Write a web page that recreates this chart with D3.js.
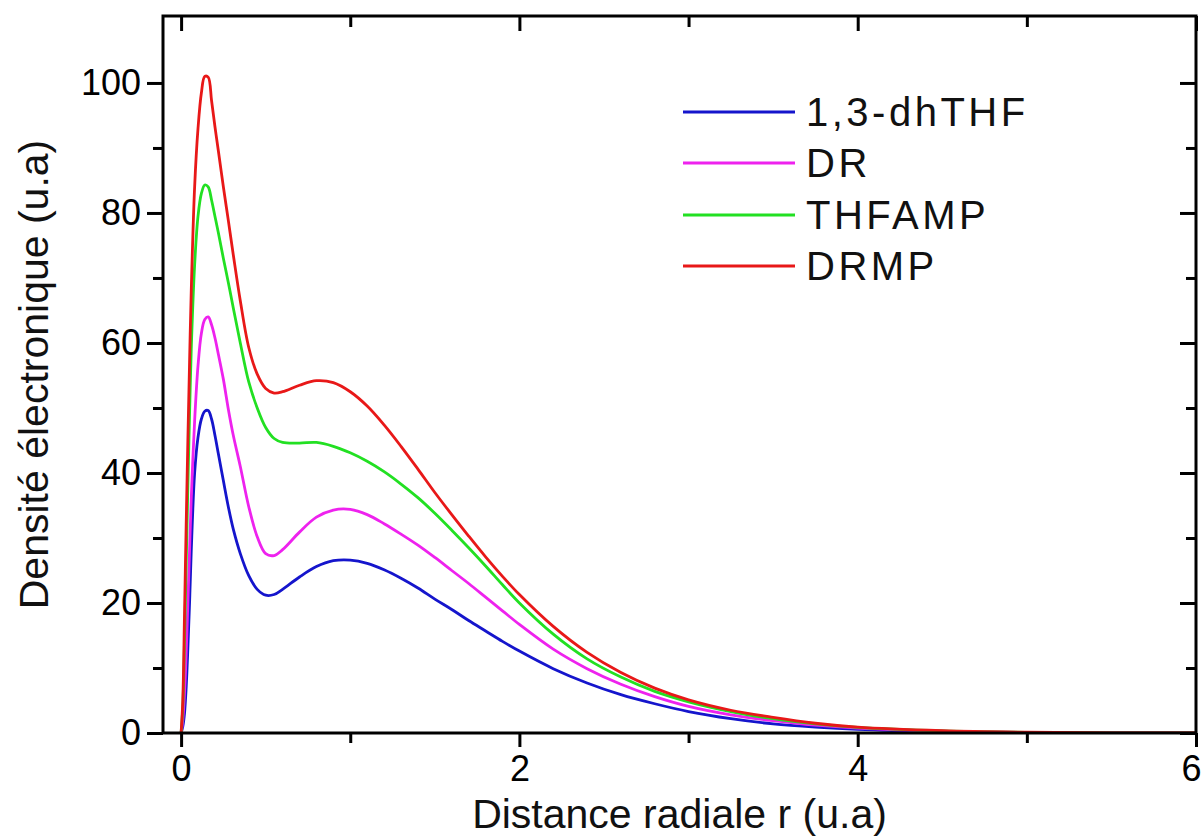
<!DOCTYPE html>
<html><head><meta charset="utf-8">
<script src="https://cdn.jsdelivr.net/npm/d3@7"></script>
<style>html,body{margin:0;padding:0;background:#fff}svg{display:block}</style>
</head><body>
<svg id="chart" width="1203" height="836"></svg>
<script>
const r = [0,0.01,0.02,0.03,0.04,0.05,0.06,0.08,0.10,0.12,0.14,0.16,0.18,0.20,0.22,0.25,0.28,0.31,0.35,0.40,0.45,0.50,0.55,0.60,0.70,0.80,0.90,1.00,1.10,1.20,1.30,1.40,1.50,1.60,1.70,1.80,1.90,2.00,2.20,2.40,2.60,2.80,3.00,3.25,3.50,3.75,4.00,4.50,5.00,5.50,6.00];
const dhTHF = [0,1,3,7,13,20,28,40,45.5,48.3,49.5,49.6,48.3,45.8,43,38.8,34.7,31.2,27.6,24.2,22.1,21.2,21.3,22.1,24,25.6,26.5,26.6,26.1,25.1,23.8,22.3,20.6,19.0,17.3,15.7,14.1,12.6,9.9,7.7,5.9,4.5,3.3,2.2,1.4,0.9,0.55,0.2,0.06,0.02,0];
const DR = [0,2,6,12,20,28,36,48,56.5,61.5,63.6,64,62.8,60.8,58.3,54.4,49.7,45.6,41,34.8,30.2,27.6,27.3,28.2,30.9,33.2,34.3,34.4,33.6,32.2,30.6,28.9,27.0,25.0,23.0,20.9,18.8,16.7,12.9,9.9,7.5,5.6,4.1,2.8,1.9,1.2,0.75,0.28,0.09,0.02,0];
const THFAMP = [0,4,14,26,38,49,59,72,79.5,83,84.3,84,82,79.5,77,73,69.2,65.2,60,54,50,47,45.3,44.7,44.6,44.7,44.1,43.1,41.8,40.2,38.3,36.2,33.8,31.2,28.5,25.7,22.8,20.0,15.2,11.4,8.6,6.4,4.8,3.3,2.2,1.4,0.85,0.32,0.1,0.03,0];
const DRMP = [0,5,18,32,45,57,68,84,93,98.5,101,100.9,97.3,93.3,89.6,84,78.7,73.3,66.5,59.3,55.2,53,52.3,52.5,53.5,54.2,53.9,52.5,50.3,47.4,44.1,40.6,37,33.6,30.3,27.1,24.1,21.3,16.4,12.4,9.3,6.9,5.1,3.5,2.4,1.5,0.9,0.36,0.12,0.03,0];

const seriesNames = ["1,3-dhTHF","DR","THFAMP","DRMP"];
const seriesValues = [dhTHF, DR, THFAMP, DRMP];
const seriesColors = ["#1515cc","#ee22ee","#22e022","#e81818"];

const xMajor = [0,2,4,6];
const xMinor = [1,3,5];
const yMajor = [0,20,40,60,80,100];
const yMinor = [10,30,50,70,90];

const W = 1203, H = 836;
const m = {left:163, right:7, top:16, bottom:103};
const svg = d3.select("#chart");
const x = d3.scaleLinear().domain([-0.107, 6]).range([m.left, W - m.right]);
const y = d3.scaleLinear().domain([0, 110.3]).range([H - m.bottom, m.top]);
const font = "'Liberation Sans', Arial, sans-serif";

svg.append("clipPath").attr("id","clip").append("rect")
  .attr("x", m.left).attr("y", m.top).attr("width", W-m.left-m.right).attr("height", H-m.top-m.bottom);

const line = d3.line().x((d,i)=>x(r[i])).y(d=>y(Math.max(0,d))).curve(d3.curveCatmullRom.alpha(0.5));
const g = svg.append("g").attr("clip-path","url(#clip)");
seriesValues.forEach((vals,k)=>{
  g.append("path").datum(vals).attr("d", line).attr("fill","none")
    .attr("stroke", seriesColors[k]).attr("stroke-width", 2.8).attr("stroke-linejoin","round");
});

function styleAxis(sel){
  sel.select(".domain").remove();
  sel.selectAll(".tick line").attr("stroke","#000").attr("stroke-width",3);
  sel.selectAll(".tick text").attr("font-family", font).attr("font-size", 36).attr("fill","#000");
}
const by = H - m.bottom, tyy = m.top, lx = m.left, rx = W - m.right;
const xAx = svg.append("g").attr("transform",`translate(0,${by})`)
  .call(d3.axisBottom(x).tickValues(xMajor).tickSize(14).tickPadding(8).tickFormat(d3.format("d"))).call(styleAxis);
xAx.selectAll(".tick text").filter(d=>d===6).attr("dx", -5);
svg.append("g").attr("transform",`translate(0,${by})`)
  .call(d3.axisBottom(x).tickValues(xMinor).tickSize(10).tickFormat("")).call(styleAxis);
svg.append("g").attr("transform",`translate(0,${tyy})`)
  .call(d3.axisBottom(x).tickValues(xMajor).tickSize(15).tickFormat("")).call(styleAxis);
svg.append("g").attr("transform",`translate(0,${tyy})`)
  .call(d3.axisBottom(x).tickValues(xMinor).tickSize(11).tickFormat("")).call(styleAxis);

svg.append("g").attr("transform",`translate(${lx},0)`)
  .call(d3.axisLeft(y).tickValues(yMajor).tickSize(16).tickPadding(6).tickFormat(d3.format("d"))).call(styleAxis);
svg.append("g").attr("transform",`translate(${lx},0)`)
  .call(d3.axisLeft(y).tickValues(yMinor).tickSize(10).tickFormat("")).call(styleAxis);
svg.append("g").attr("transform",`translate(${rx},0)`)
  .call(d3.axisLeft(y).tickValues(yMajor).tickSize(16).tickFormat("")).call(styleAxis);
svg.append("g").attr("transform",`translate(${rx},0)`)
  .call(d3.axisLeft(y).tickValues(yMinor).tickSize(10).tickFormat("")).call(styleAxis);

svg.append("rect").attr("x", lx).attr("y", tyy).attr("width", rx-lx).attr("height", by-tyy)
  .attr("fill","none").attr("stroke","#000").attr("stroke-width",3);

svg.append("text").attr("x", (lx+rx)/2).attr("y", 828).attr("text-anchor","middle")
  .attr("font-family", font).attr("font-size", 41).attr("fill","#111").text("Distance radiale r (u.a)");
svg.append("text").attr("transform",`translate(48,${(16+733)/2}) rotate(-90)`).attr("text-anchor","middle")
  .attr("font-family", font).attr("font-size", 41).attr("fill","#111").text("Densité électronique (u.a)");

const legY = [112,163,215,266];
const lg = svg.append("g");
seriesNames.forEach((n,k)=>{
  lg.append("line").attr("x1",683).attr("x2",795).attr("y1",legY[k]).attr("y2",legY[k])
    .attr("stroke", seriesColors[k]).attr("stroke-width",2.8);
  lg.append("text").attr("x",806).attr("y",legY[k]+14).attr("font-family",font).attr("font-size",40)
    .attr("letter-spacing", 3.5).attr("fill","#111").text(n);
});
</script>
</body></html>
